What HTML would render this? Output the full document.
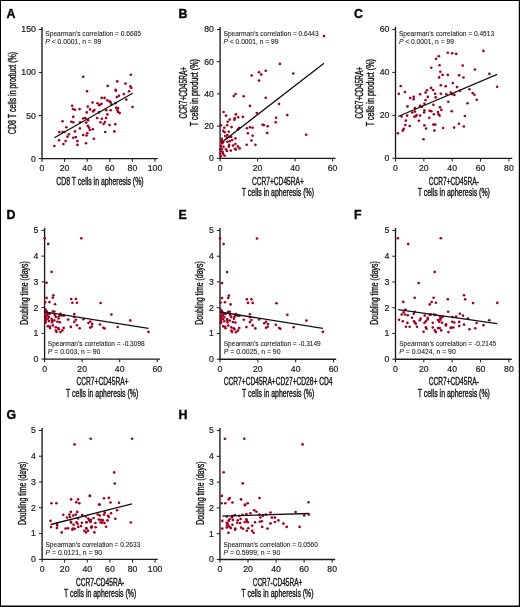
<!DOCTYPE html><html><head><meta charset="utf-8"><style>html,body{margin:0;padding:0;background:#fff;width:520px;height:607px;overflow:hidden}svg{display:block;will-change:transform}</style></head><body><svg width="520" height="607" viewBox="0 0 520 607" font-family="'Liberation Sans', sans-serif">
<rect x="0" y="0" width="520" height="607" fill="#fff"/>
<path d="M0 0H520V607H0Z M1 1V605.6H518.8V1Z" fill="#000" fill-rule="evenodd"/>
<g><text x="6.6" y="18.3" font-weight="bold" font-size="12.4" fill="#000" stroke="#000" stroke-width="0.35">A</text>
<path d="M42 26.95V158.65H157.7" fill="none" stroke="#1a1a1a" stroke-width="1.35"/>
<path d="M42 158.65v3.2M64.6 158.65v3.2M87.2 158.65v3.2M109.8 158.65v3.2M132.4 158.65v3.2M155 158.65v3.2M42 158.65h-3.2M42 115.62h-3.2M42 72.58h-3.2M42 29.55h-3.2" fill="none" stroke="#1a1a1a" stroke-width="1"/>
<g font-size="8.7" fill="#1a1a1a" stroke="#1a1a1a" stroke-width="0.2"><text x="42" y="171.05" text-anchor="middle">0</text><text x="64.6" y="171.05" text-anchor="middle">20</text><text x="87.2" y="171.05" text-anchor="middle">40</text><text x="109.8" y="171.05" text-anchor="middle">60</text><text x="132.4" y="171.05" text-anchor="middle">80</text><text x="155" y="171.05" text-anchor="middle">100</text><text x="35.8" y="161.55" text-anchor="end">0</text><text x="35.8" y="118.52" text-anchor="end">50</text><text x="35.8" y="75.48" text-anchor="end">100</text><text x="35.8" y="32.45" text-anchor="end">150</text></g>
<g fill="#9c001e"><circle cx="83.2" cy="76.8" r="1.32"/><circle cx="87" cy="91.3" r="1.32"/><circle cx="72.2" cy="105.8" r="1.32"/><circle cx="73" cy="109" r="1.32"/><circle cx="75" cy="109.8" r="1.32"/><circle cx="79.6" cy="109.1" r="1.32"/><circle cx="87.8" cy="106.6" r="1.32"/><circle cx="90.1" cy="109.4" r="1.32"/><circle cx="92.6" cy="102.5" r="1.32"/><circle cx="97.5" cy="103.2" r="1.32"/><circle cx="100" cy="104.8" r="1.32"/><circle cx="101.7" cy="97.9" r="1.32"/><circle cx="86.8" cy="112.4" r="1.32"/><circle cx="93.1" cy="111.4" r="1.32"/><circle cx="94.4" cy="110" r="1.32"/><circle cx="98.9" cy="112.4" r="1.32"/><circle cx="73.3" cy="116.9" r="1.32"/><circle cx="62.6" cy="121.3" r="1.32"/><circle cx="71.3" cy="121.8" r="1.32"/><circle cx="73.3" cy="122.3" r="1.32"/><circle cx="80.2" cy="122.3" r="1.32"/><circle cx="83.2" cy="118.5" r="1.32"/><circle cx="85.3" cy="118" r="1.32"/><circle cx="88.2" cy="120.2" r="1.32"/><circle cx="86.2" cy="122.6" r="1.32"/><circle cx="97.2" cy="118" r="1.32"/><circle cx="100.5" cy="122.3" r="1.32"/><circle cx="66.4" cy="127.2" r="1.32"/><circle cx="79.9" cy="128.4" r="1.32"/><circle cx="87.8" cy="125.9" r="1.32"/><circle cx="89" cy="127.6" r="1.32"/><circle cx="89.8" cy="130" r="1.32"/><circle cx="92.8" cy="129.2" r="1.32"/><circle cx="59.3" cy="132" r="1.32"/><circle cx="62.6" cy="132" r="1.32"/><circle cx="64.3" cy="132" r="1.32"/><circle cx="68.9" cy="134.2" r="1.32"/><circle cx="75" cy="131.4" r="1.32"/><circle cx="67.5" cy="136.6" r="1.32"/><circle cx="73.3" cy="137.8" r="1.32"/><circle cx="75.8" cy="137.1" r="1.32"/><circle cx="83.2" cy="135" r="1.32"/><circle cx="86.5" cy="135.5" r="1.32"/><circle cx="87.3" cy="133.3" r="1.32"/><circle cx="59" cy="140.3" r="1.32"/><circle cx="65.6" cy="141.1" r="1.32"/><circle cx="77.4" cy="141.1" r="1.32"/><circle cx="93.9" cy="138.8" r="1.32"/><circle cx="54.4" cy="146" r="1.32"/><circle cx="63.4" cy="144.1" r="1.32"/><circle cx="77.4" cy="144.9" r="1.32"/><circle cx="86" cy="143.2" r="1.32"/><circle cx="130.8" cy="74.8" r="1.32"/><circle cx="117.3" cy="81.4" r="1.32"/><circle cx="125.5" cy="83.6" r="1.32"/><circle cx="107.7" cy="85.9" r="1.32"/><circle cx="130.4" cy="86.4" r="1.32"/><circle cx="131.3" cy="88" r="1.32"/><circle cx="115.6" cy="89.7" r="1.32"/><circle cx="115.9" cy="90.8" r="1.32"/><circle cx="129.1" cy="91.3" r="1.32"/><circle cx="123.8" cy="94.1" r="1.32"/><circle cx="118.9" cy="95.8" r="1.32"/><circle cx="116.9" cy="97.1" r="1.32"/><circle cx="104.6" cy="97.9" r="1.32"/><circle cx="126.3" cy="99.6" r="1.32"/><circle cx="107.4" cy="100.4" r="1.32"/><circle cx="109.5" cy="101.2" r="1.32"/><circle cx="110.7" cy="102.5" r="1.32"/><circle cx="101.6" cy="103.7" r="1.32"/><circle cx="99.1" cy="105.3" r="1.32"/><circle cx="115.3" cy="103.2" r="1.32"/><circle cx="111.5" cy="104.5" r="1.32"/><circle cx="132.6" cy="107" r="1.32"/><circle cx="116.1" cy="107.8" r="1.32"/><circle cx="118.1" cy="108.1" r="1.32"/><circle cx="117.3" cy="110.3" r="1.32"/><circle cx="118.1" cy="111.9" r="1.32"/><circle cx="119.7" cy="113.1" r="1.32"/><circle cx="110.7" cy="110.3" r="1.32"/><circle cx="106.2" cy="110.3" r="1.32"/><circle cx="107.4" cy="114.4" r="1.32"/><circle cx="101.9" cy="118.8" r="1.32"/><circle cx="106" cy="118" r="1.32"/><circle cx="104.9" cy="122.1" r="1.32"/><circle cx="103.6" cy="124" r="1.32"/><circle cx="109.5" cy="125.1" r="1.32"/><circle cx="115.3" cy="124.3" r="1.32"/><circle cx="105.2" cy="132" r="1.32"/><circle cx="114.4" cy="131.4" r="1.32"/></g>
<path d="M54.4 137.8L132.6 93.3" stroke="#111" stroke-width="1.3"/>
<g font-size="6.8" fill="#1a1a1a" stroke="#1a1a1a" stroke-width="0.08"><text x="45.3" y="36.4" textLength="95.8" lengthAdjust="spacingAndGlyphs">Spearman&#8217;s correlation = 0.6685</text><text x="45.3" y="44.2" textLength="56" lengthAdjust="spacingAndGlyphs"><tspan font-style="italic">P</tspan> &lt; 0.0001, n = 99</text></g>
<g font-size="10.0" fill="#1a1a1a" stroke="#1a1a1a" stroke-width="0.4"><text x="99.9" y="185" text-anchor="middle" textLength="87.5" lengthAdjust="spacingAndGlyphs">CD8 T cells in apheresis (%)</text><text transform="translate(16.3 93) rotate(-90)" text-anchor="middle" textLength="82.4" lengthAdjust="spacingAndGlyphs">CD8 T cells in product (%)</text></g></g>
<g><text x="178.4" y="18.3" font-weight="bold" font-size="12.4" fill="#000" stroke="#000" stroke-width="0.35">B</text>
<path d="M220.1 26.9V158.3H335.5" fill="none" stroke="#1a1a1a" stroke-width="1.35"/>
<path d="M220.1 158.3v3.2M257.6 158.3v3.2M295.1 158.3v3.2M332.6 158.3v3.2M220.1 158.3h-3.2M220.1 126.1h-3.2M220.1 93.9h-3.2M220.1 61.7h-3.2M220.1 29.5h-3.2" fill="none" stroke="#1a1a1a" stroke-width="1"/>
<g font-size="8.7" fill="#1a1a1a" stroke="#1a1a1a" stroke-width="0.2"><text x="220.1" y="170.7" text-anchor="middle">0</text><text x="257.6" y="170.7" text-anchor="middle">20</text><text x="295.1" y="170.7" text-anchor="middle">40</text><text x="332.6" y="170.7" text-anchor="middle">60</text><text x="213.9" y="161.2" text-anchor="end">0</text><text x="213.9" y="129" text-anchor="end">20</text><text x="213.9" y="96.8" text-anchor="end">40</text><text x="213.9" y="64.6" text-anchor="end">60</text><text x="213.9" y="32.4" text-anchor="end">80</text></g>
<g fill="#9c001e"><circle cx="250" cy="105.9" r="1.32"/><circle cx="223.6" cy="112" r="1.32"/><circle cx="226" cy="115.6" r="1.32"/><circle cx="235.9" cy="114.4" r="1.32"/><circle cx="238.2" cy="117.2" r="1.32"/><circle cx="242.9" cy="116.9" r="1.32"/><circle cx="256.8" cy="113" r="1.32"/><circle cx="229.7" cy="119.6" r="1.32"/><circle cx="234.7" cy="118.2" r="1.32"/><circle cx="234.4" cy="119.8" r="1.32"/><circle cx="227.7" cy="121.7" r="1.32"/><circle cx="221" cy="125.2" r="1.32"/><circle cx="227.1" cy="125.2" r="1.32"/><circle cx="231.6" cy="127.1" r="1.32"/><circle cx="224.3" cy="127.7" r="1.32"/><circle cx="239.1" cy="128" r="1.32"/><circle cx="238" cy="129.4" r="1.32"/><circle cx="246.9" cy="128.3" r="1.32"/><circle cx="250" cy="127.3" r="1.32"/><circle cx="252.6" cy="127.8" r="1.32"/><circle cx="223.2" cy="130.8" r="1.32"/><circle cx="224.6" cy="132.3" r="1.32"/><circle cx="228.8" cy="131.8" r="1.32"/><circle cx="247.9" cy="133.2" r="1.32"/><circle cx="252.6" cy="135.8" r="1.32"/><circle cx="225.3" cy="136" r="1.32"/><circle cx="227.4" cy="135.1" r="1.32"/><circle cx="229.3" cy="137" r="1.32"/><circle cx="231.2" cy="136.8" r="1.32"/><circle cx="226.9" cy="137.9" r="1.32"/><circle cx="235.4" cy="138.4" r="1.32"/><circle cx="232.1" cy="140.1" r="1.32"/><circle cx="251.4" cy="140.5" r="1.32"/><circle cx="221.8" cy="140.5" r="1.32"/><circle cx="221.3" cy="142.1" r="1.32"/><circle cx="223.2" cy="142.1" r="1.32"/><circle cx="227.4" cy="141.8" r="1.32"/><circle cx="229.7" cy="141.2" r="1.32"/><circle cx="222.2" cy="143.5" r="1.32"/><circle cx="229.1" cy="144.9" r="1.32"/><circle cx="233" cy="145.6" r="1.32"/><circle cx="235.4" cy="144" r="1.32"/><circle cx="237.9" cy="146.4" r="1.32"/><circle cx="246.7" cy="144.8" r="1.32"/><circle cx="255.4" cy="144.8" r="1.32"/><circle cx="221.1" cy="146.4" r="1.32"/><circle cx="223.6" cy="146.8" r="1.32"/><circle cx="228.8" cy="146.8" r="1.32"/><circle cx="234.9" cy="148.7" r="1.32"/><circle cx="239.6" cy="148.4" r="1.32"/><circle cx="221.8" cy="149.2" r="1.32"/><circle cx="226" cy="149.2" r="1.32"/><circle cx="230.7" cy="150.6" r="1.32"/><circle cx="226.9" cy="151" r="1.32"/><circle cx="235.9" cy="149.6" r="1.32"/><circle cx="220.8" cy="151.5" r="1.32"/><circle cx="222.7" cy="152" r="1.32"/><circle cx="220.3" cy="153.9" r="1.32"/><circle cx="224.6" cy="155.8" r="1.32"/><circle cx="220.8" cy="156.2" r="1.32"/><circle cx="221.8" cy="138.8" r="1.32"/><circle cx="220.3" cy="149.2" r="1.32"/><circle cx="223.2" cy="153.9" r="1.32"/><circle cx="262.6" cy="124.7" r="1.32"/><circle cx="324" cy="36.1" r="1.32"/><circle cx="279.9" cy="63.9" r="1.32"/><circle cx="259" cy="72.2" r="1.32"/><circle cx="261.2" cy="74.6" r="1.32"/><circle cx="265.7" cy="70.8" r="1.32"/><circle cx="293.3" cy="73.5" r="1.32"/><circle cx="259" cy="80.6" r="1.32"/><circle cx="265.7" cy="97.8" r="1.32"/><circle cx="279" cy="104" r="1.32"/><circle cx="287.3" cy="115.1" r="1.32"/><circle cx="276.1" cy="117.8" r="1.32"/><circle cx="275.7" cy="122.2" r="1.32"/><circle cx="263.9" cy="125.1" r="1.32"/><circle cx="267.7" cy="126.2" r="1.32"/><circle cx="267.2" cy="132.9" r="1.32"/><circle cx="306.2" cy="134.7" r="1.32"/><circle cx="251.6" cy="75.5" r="1.32"/><circle cx="235.6" cy="94" r="1.32"/><circle cx="233.7" cy="96.1" r="1.32"/><circle cx="243.7" cy="96.2" r="1.32"/></g>
<path d="M223.2 141.2L324 63.3" stroke="#111" stroke-width="1.3"/>
<g font-size="6.8" fill="#1a1a1a" stroke="#1a1a1a" stroke-width="0.08"><text x="223.5" y="36.4" textLength="95.2" lengthAdjust="spacingAndGlyphs">Spearman&#8217;s correlation = 0.6443</text><text x="223.5" y="44.2" textLength="55" lengthAdjust="spacingAndGlyphs"><tspan font-style="italic">P</tspan> &lt; 0.0001, n = 99</text></g>
<g font-size="10.0" fill="#1a1a1a" stroke="#1a1a1a" stroke-width="0.4"><text x="277.9" y="184.6" text-anchor="middle" textLength="52.0" lengthAdjust="spacingAndGlyphs">CCR7+CD45RA+</text><text x="277.9" y="195.7" text-anchor="middle" textLength="72.3" lengthAdjust="spacingAndGlyphs">T cells in apheresis (%)</text><text transform="translate(186.7 92.7) rotate(-90)" text-anchor="middle" textLength="51.8" lengthAdjust="spacingAndGlyphs">CCR7+CD45RA+</text><text transform="translate(197.6 92.65) rotate(-90)" text-anchor="middle" textLength="67.3" lengthAdjust="spacingAndGlyphs">T cells in product (%)</text></g></g>
<g><text x="354" y="18.4" font-weight="bold" font-size="12.4" fill="#000" stroke="#000" stroke-width="0.35">C</text>
<path d="M395.5 26.82V158.3H512.3" fill="none" stroke="#1a1a1a" stroke-width="1.35"/>
<path d="M395.5 158.3v3.2M423.85 158.3v3.2M452.2 158.3v3.2M480.55 158.3v3.2M508.9 158.3v3.2M395.5 158.3h-3.2M395.5 115.34h-3.2M395.5 72.38h-3.2M395.5 29.42h-3.2" fill="none" stroke="#1a1a1a" stroke-width="1"/>
<g font-size="8.7" fill="#1a1a1a" stroke="#1a1a1a" stroke-width="0.2"><text x="395.5" y="170.7" text-anchor="middle">0</text><text x="423.85" y="170.7" text-anchor="middle">20</text><text x="452.2" y="170.7" text-anchor="middle">40</text><text x="480.55" y="170.7" text-anchor="middle">60</text><text x="508.9" y="170.7" text-anchor="middle">80</text><text x="389.3" y="161.2" text-anchor="end">0</text><text x="389.3" y="118.24" text-anchor="end">20</text><text x="389.3" y="75.28" text-anchor="end">40</text><text x="389.3" y="32.32" text-anchor="end">60</text></g>
<g fill="#9c001e"><circle cx="447.8" cy="52.8" r="1.32"/><circle cx="438.8" cy="56.2" r="1.32"/><circle cx="436" cy="58.8" r="1.32"/><circle cx="431.3" cy="67.8" r="1.32"/><circle cx="439.6" cy="65.2" r="1.32"/><circle cx="440.3" cy="71.8" r="1.32"/><circle cx="442.6" cy="74.9" r="1.32"/><circle cx="439.1" cy="77.4" r="1.32"/><circle cx="447.8" cy="74.9" r="1.32"/><circle cx="400.7" cy="86" r="1.32"/><circle cx="398.8" cy="93.8" r="1.32"/><circle cx="404.9" cy="92.1" r="1.32"/><circle cx="440.8" cy="85.3" r="1.32"/><circle cx="445.7" cy="86.2" r="1.32"/><circle cx="431" cy="87.9" r="1.32"/><circle cx="433.1" cy="90" r="1.32"/><circle cx="427" cy="90.3" r="1.32"/><circle cx="425.6" cy="92.6" r="1.32"/><circle cx="435.1" cy="93.8" r="1.32"/><circle cx="440.8" cy="93.8" r="1.32"/><circle cx="446.4" cy="94.3" r="1.32"/><circle cx="420.1" cy="94.3" r="1.32"/><circle cx="427.9" cy="96.9" r="1.32"/><circle cx="435.7" cy="97.4" r="1.32"/><circle cx="413.7" cy="96.9" r="1.32"/><circle cx="410.2" cy="98.1" r="1.32"/><circle cx="413.7" cy="99.2" r="1.32"/><circle cx="425.6" cy="100" r="1.32"/><circle cx="448.3" cy="101.7" r="1.32"/><circle cx="424.4" cy="103.8" r="1.32"/><circle cx="433.4" cy="104.7" r="1.32"/><circle cx="407.5" cy="106.4" r="1.32"/><circle cx="420.1" cy="105.9" r="1.32"/><circle cx="421.8" cy="106.8" r="1.32"/><circle cx="414.9" cy="108.1" r="1.32"/><circle cx="424.4" cy="110.4" r="1.32"/><circle cx="429.6" cy="110.7" r="1.32"/><circle cx="431.3" cy="111.3" r="1.32"/><circle cx="437.9" cy="112.1" r="1.32"/><circle cx="440" cy="107.3" r="1.32"/><circle cx="441.4" cy="109.9" r="1.32"/><circle cx="412.3" cy="112.5" r="1.32"/><circle cx="414.9" cy="111.6" r="1.32"/><circle cx="424.1" cy="112.5" r="1.32"/><circle cx="433.9" cy="114.2" r="1.32"/><circle cx="438.6" cy="114.2" r="1.32"/><circle cx="439.6" cy="115.6" r="1.32"/><circle cx="401.6" cy="116.5" r="1.32"/><circle cx="407.1" cy="115.6" r="1.32"/><circle cx="414.4" cy="116.8" r="1.32"/><circle cx="416.6" cy="115.1" r="1.32"/><circle cx="420.1" cy="115.6" r="1.32"/><circle cx="415.8" cy="116.3" r="1.32"/><circle cx="429.3" cy="117.7" r="1.32"/><circle cx="405.9" cy="120.6" r="1.32"/><circle cx="418.9" cy="120.8" r="1.32"/><circle cx="405.4" cy="125.1" r="1.32"/><circle cx="409.7" cy="126" r="1.32"/><circle cx="424.4" cy="125.4" r="1.32"/><circle cx="433.4" cy="124.6" r="1.32"/><circle cx="435.3" cy="124.6" r="1.32"/><circle cx="403.7" cy="128.9" r="1.32"/><circle cx="402.8" cy="130.6" r="1.32"/><circle cx="426.1" cy="128.6" r="1.32"/><circle cx="443.1" cy="128" r="1.32"/><circle cx="434.4" cy="130.6" r="1.32"/><circle cx="397.9" cy="133.2" r="1.32"/><circle cx="423.5" cy="139.3" r="1.32"/><circle cx="483.4" cy="50.9" r="1.32"/><circle cx="452.2" cy="53.2" r="1.32"/><circle cx="456.2" cy="53.9" r="1.32"/><circle cx="462.7" cy="65.5" r="1.32"/><circle cx="474.9" cy="69.5" r="1.32"/><circle cx="459.1" cy="75.3" r="1.32"/><circle cx="463.5" cy="77.5" r="1.32"/><circle cx="489.4" cy="73.9" r="1.32"/><circle cx="452.8" cy="83.1" r="1.32"/><circle cx="457" cy="87.1" r="1.32"/><circle cx="497.1" cy="86.7" r="1.32"/><circle cx="469.4" cy="89.2" r="1.32"/><circle cx="460" cy="90.7" r="1.32"/><circle cx="450.8" cy="92.5" r="1.32"/><circle cx="452.2" cy="94.3" r="1.32"/><circle cx="454.4" cy="94.9" r="1.32"/><circle cx="472.7" cy="93.1" r="1.32"/><circle cx="474.5" cy="94.7" r="1.32"/><circle cx="476.7" cy="99.8" r="1.32"/><circle cx="467.6" cy="103.2" r="1.32"/><circle cx="451.7" cy="111.2" r="1.32"/><circle cx="464.9" cy="116" r="1.32"/><circle cx="458.9" cy="123.7" r="1.32"/><circle cx="454.1" cy="127.6" r="1.32"/><circle cx="463.8" cy="126.5" r="1.32"/></g>
<path d="M398.1 116.5L497.1 74.4" stroke="#111" stroke-width="1.3"/>
<g font-size="6.8" fill="#1a1a1a" stroke="#1a1a1a" stroke-width="0.08"><text x="398.9" y="36.4" textLength="95.2" lengthAdjust="spacingAndGlyphs">Spearman&#8217;s correlation = 0.4513</text><text x="398.9" y="44.2" textLength="55" lengthAdjust="spacingAndGlyphs"><tspan font-style="italic">P</tspan> &lt; 0.0001, n = 99</text></g>
<g font-size="10.0" fill="#1a1a1a" stroke="#1a1a1a" stroke-width="0.4"><text x="453.8" y="184.6" text-anchor="middle" textLength="50.0" lengthAdjust="spacingAndGlyphs">CCR7+CD45RA-</text><text x="453.8" y="195.7" text-anchor="middle" textLength="72.3" lengthAdjust="spacingAndGlyphs">T cells in apheresis (%)</text><text transform="translate(362.7 92.7) rotate(-90)" text-anchor="middle" textLength="51.8" lengthAdjust="spacingAndGlyphs">CCR7+CD45RA+</text><text transform="translate(373.6 92.65) rotate(-90)" text-anchor="middle" textLength="67.3" lengthAdjust="spacingAndGlyphs">T cells in product (%)</text></g></g>
<g><text x="6.5" y="218.7" font-weight="bold" font-size="12.4" fill="#000" stroke="#000" stroke-width="0.35">D</text>
<path d="M44.6 227.8V359.1H160" fill="none" stroke="#1a1a1a" stroke-width="1.35"/>
<path d="M44.6 359.1v3.2M82.14 359.1v3.2M119.68 359.1v3.2M157.22 359.1v3.2M44.6 359.1h-3.2M44.6 333.36h-3.2M44.6 307.62h-3.2M44.6 281.88h-3.2M44.6 256.14h-3.2M44.6 230.4h-3.2" fill="none" stroke="#1a1a1a" stroke-width="1"/>
<g font-size="8.7" fill="#1a1a1a" stroke="#1a1a1a" stroke-width="0.2"><text x="44.6" y="371.5" text-anchor="middle">0</text><text x="82.14" y="371.5" text-anchor="middle">20</text><text x="119.68" y="371.5" text-anchor="middle">40</text><text x="157.22" y="371.5" text-anchor="middle">60</text><text x="38.4" y="362" text-anchor="end">0</text><text x="38.4" y="336.26" text-anchor="end">1</text><text x="38.4" y="310.52" text-anchor="end">2</text><text x="38.4" y="284.78" text-anchor="end">3</text><text x="38.4" y="259.04" text-anchor="end">4</text><text x="38.4" y="233.3" text-anchor="end">5</text></g>
<g fill="#9c001e"><circle cx="53.4" cy="295.4" r="1.32"/><circle cx="52.8" cy="297.7" r="1.32"/><circle cx="46.6" cy="297.9" r="1.32"/><circle cx="45.2" cy="302.3" r="1.32"/><circle cx="49.5" cy="302.1" r="1.32"/><circle cx="55.1" cy="304.2" r="1.32"/><circle cx="71.2" cy="299" r="1.32"/><circle cx="75.8" cy="299" r="1.32"/><circle cx="72.4" cy="302.7" r="1.32"/><circle cx="77" cy="302.7" r="1.32"/><circle cx="45.5" cy="309.6" r="1.32"/><circle cx="52.8" cy="311.5" r="1.32"/><circle cx="54.3" cy="311.5" r="1.32"/><circle cx="46.2" cy="312.7" r="1.32"/><circle cx="48.2" cy="313.5" r="1.32"/><circle cx="50.1" cy="313.8" r="1.32"/><circle cx="60.5" cy="313.8" r="1.32"/><circle cx="74.3" cy="314.1" r="1.32"/><circle cx="45.5" cy="315.4" r="1.32"/><circle cx="47.4" cy="315.4" r="1.32"/><circle cx="54.7" cy="315" r="1.32"/><circle cx="60.1" cy="315" r="1.32"/><circle cx="63.9" cy="315.6" r="1.32"/><circle cx="62" cy="315.4" r="1.32"/><circle cx="45.8" cy="317.3" r="1.32"/><circle cx="48.9" cy="316.9" r="1.32"/><circle cx="55.8" cy="316.9" r="1.32"/><circle cx="58.9" cy="316.5" r="1.32"/><circle cx="74.3" cy="316.9" r="1.32"/><circle cx="45.5" cy="319.2" r="1.32"/><circle cx="47.8" cy="318.8" r="1.32"/><circle cx="51.6" cy="318.8" r="1.32"/><circle cx="58.5" cy="318.5" r="1.32"/><circle cx="68.2" cy="319.6" r="1.32"/><circle cx="75.8" cy="319.8" r="1.32"/><circle cx="45.8" cy="321.2" r="1.32"/><circle cx="48.9" cy="321" r="1.32"/><circle cx="52" cy="320.4" r="1.32"/><circle cx="54.3" cy="320.4" r="1.32"/><circle cx="45.5" cy="322.7" r="1.32"/><circle cx="52" cy="322.3" r="1.32"/><circle cx="57.4" cy="321.8" r="1.32"/><circle cx="59.8" cy="322.3" r="1.32"/><circle cx="74.3" cy="321.9" r="1.32"/><circle cx="52.8" cy="325.4" r="1.32"/><circle cx="47.8" cy="326.2" r="1.32"/><circle cx="49.7" cy="326.5" r="1.32"/><circle cx="50.1" cy="328.1" r="1.32"/><circle cx="55.8" cy="327.2" r="1.32"/><circle cx="58.2" cy="328.1" r="1.32"/><circle cx="58.9" cy="329.2" r="1.32"/><circle cx="63.7" cy="327.9" r="1.32"/><circle cx="70.8" cy="326.9" r="1.32"/><circle cx="77" cy="325.2" r="1.32"/><circle cx="79.7" cy="328.2" r="1.32"/><circle cx="55.8" cy="330.5" r="1.32"/><circle cx="56.6" cy="331.9" r="1.32"/><circle cx="60.5" cy="332.1" r="1.32"/><circle cx="62.4" cy="330.4" r="1.32"/><circle cx="46.6" cy="311.2" r="1.32"/><circle cx="44.7" cy="238.3" r="1.32"/><circle cx="81.3" cy="238.3" r="1.32"/><circle cx="48.2" cy="243.9" r="1.32"/><circle cx="51.6" cy="271.9" r="1.32"/><circle cx="46.6" cy="282.8" r="1.32"/><circle cx="100.6" cy="303" r="1.32"/><circle cx="111.4" cy="314.5" r="1.32"/><circle cx="83.4" cy="319.3" r="1.32"/><circle cx="90.3" cy="321.5" r="1.32"/><circle cx="88.5" cy="323" r="1.32"/><circle cx="92.2" cy="323.9" r="1.32"/><circle cx="100" cy="324.5" r="1.32"/><circle cx="130.3" cy="320.4" r="1.32"/><circle cx="90.3" cy="327.6" r="1.32"/><circle cx="91.8" cy="326.5" r="1.32"/><circle cx="103.4" cy="327.8" r="1.32"/><circle cx="104.5" cy="328.5" r="1.32"/><circle cx="117.7" cy="327" r="1.32"/><circle cx="148.5" cy="331.9" r="1.32"/></g>
<path d="M44.6 311.8L148.5 328.4" stroke="#111" stroke-width="1.3"/>
<g font-size="6.8" fill="#1a1a1a" stroke="#1a1a1a" stroke-width="0.08"><text x="47.8" y="346.3" textLength="96.9" lengthAdjust="spacingAndGlyphs">Spearman&#8217;s correlation = -0.3098</text><text x="47.8" y="354.4" textLength="52.5" lengthAdjust="spacingAndGlyphs"><tspan font-style="italic">P</tspan> = 0.003, n = 90</text></g>
<g font-size="10.0" fill="#1a1a1a" stroke="#1a1a1a" stroke-width="0.4"><text x="102.5" y="385.4" text-anchor="middle" textLength="52.1" lengthAdjust="spacingAndGlyphs">CCR7+CD45RA+</text><text x="102.2" y="396.7" text-anchor="middle" textLength="72.3" lengthAdjust="spacingAndGlyphs">T cells in apheresis (%)</text><text transform="translate(28 293) rotate(-90)" text-anchor="middle" textLength="63.4" lengthAdjust="spacingAndGlyphs">Doubling time (days)</text></g></g>
<g><text x="178.5" y="218.7" font-weight="bold" font-size="12.4" fill="#000" stroke="#000" stroke-width="0.35">E</text>
<path d="M220 227.9V359.2H336.2" fill="none" stroke="#1a1a1a" stroke-width="1.35"/>
<path d="M220 359.2v3.2M257.84 359.2v3.2M295.68 359.2v3.2M333.52 359.2v3.2M220 359.2h-3.2M220 333.46h-3.2M220 307.72h-3.2M220 281.98h-3.2M220 256.24h-3.2M220 230.5h-3.2" fill="none" stroke="#1a1a1a" stroke-width="1"/>
<g font-size="8.7" fill="#1a1a1a" stroke="#1a1a1a" stroke-width="0.2"><text x="220" y="371.6" text-anchor="middle">0</text><text x="257.84" y="371.6" text-anchor="middle">20</text><text x="295.68" y="371.6" text-anchor="middle">40</text><text x="333.52" y="371.6" text-anchor="middle">60</text><text x="213.8" y="362.1" text-anchor="end">0</text><text x="213.8" y="336.36" text-anchor="end">1</text><text x="213.8" y="310.62" text-anchor="end">2</text><text x="213.8" y="284.88" text-anchor="end">3</text><text x="213.8" y="259.14" text-anchor="end">4</text><text x="213.8" y="233.4" text-anchor="end">5</text></g>
<g fill="#9c001e"><circle cx="228.87" cy="295.6" r="1.32"/><circle cx="228.27" cy="297.9" r="1.32"/><circle cx="222.02" cy="298.1" r="1.32"/><circle cx="220.6" cy="302.5" r="1.32"/><circle cx="224.94" cy="302.3" r="1.32"/><circle cx="230.58" cy="304.4" r="1.32"/><circle cx="246.81" cy="299.2" r="1.32"/><circle cx="251.45" cy="299.2" r="1.32"/><circle cx="248.02" cy="302.9" r="1.32"/><circle cx="252.66" cy="302.9" r="1.32"/><circle cx="220.91" cy="309.8" r="1.32"/><circle cx="228.27" cy="311.7" r="1.32"/><circle cx="229.78" cy="311.7" r="1.32"/><circle cx="221.61" cy="312.9" r="1.32"/><circle cx="223.63" cy="313.7" r="1.32"/><circle cx="225.54" cy="314" r="1.32"/><circle cx="236.03" cy="314" r="1.32"/><circle cx="249.94" cy="314.3" r="1.32"/><circle cx="220.91" cy="315.6" r="1.32"/><circle cx="222.82" cy="315.6" r="1.32"/><circle cx="230.18" cy="315.2" r="1.32"/><circle cx="235.62" cy="315.2" r="1.32"/><circle cx="239.45" cy="315.8" r="1.32"/><circle cx="237.54" cy="315.6" r="1.32"/><circle cx="221.21" cy="317.5" r="1.32"/><circle cx="224.33" cy="317.1" r="1.32"/><circle cx="231.29" cy="317.1" r="1.32"/><circle cx="234.41" cy="316.7" r="1.32"/><circle cx="249.94" cy="317.1" r="1.32"/><circle cx="220.91" cy="319.4" r="1.32"/><circle cx="223.23" cy="319" r="1.32"/><circle cx="227.06" cy="319" r="1.32"/><circle cx="234.01" cy="318.7" r="1.32"/><circle cx="243.79" cy="319.8" r="1.32"/><circle cx="251.45" cy="320" r="1.32"/><circle cx="221.21" cy="321.4" r="1.32"/><circle cx="224.33" cy="321.2" r="1.32"/><circle cx="227.46" cy="320.6" r="1.32"/><circle cx="229.78" cy="320.6" r="1.32"/><circle cx="220.91" cy="322.9" r="1.32"/><circle cx="227.46" cy="322.5" r="1.32"/><circle cx="232.9" cy="322" r="1.32"/><circle cx="235.32" cy="322.5" r="1.32"/><circle cx="249.94" cy="322.1" r="1.32"/><circle cx="228.27" cy="325.6" r="1.32"/><circle cx="223.23" cy="326.4" r="1.32"/><circle cx="225.14" cy="326.7" r="1.32"/><circle cx="225.54" cy="328.3" r="1.32"/><circle cx="231.29" cy="327.4" r="1.32"/><circle cx="233.71" cy="328.3" r="1.32"/><circle cx="234.41" cy="329.4" r="1.32"/><circle cx="239.25" cy="328.1" r="1.32"/><circle cx="246.41" cy="327.1" r="1.32"/><circle cx="252.66" cy="325.4" r="1.32"/><circle cx="255.38" cy="328.4" r="1.32"/><circle cx="231.29" cy="330.7" r="1.32"/><circle cx="232.1" cy="332.1" r="1.32"/><circle cx="236.03" cy="332.3" r="1.32"/><circle cx="237.94" cy="330.6" r="1.32"/><circle cx="222.02" cy="311.4" r="1.32"/><circle cx="220.1" cy="238.5" r="1.32"/><circle cx="256.99" cy="238.5" r="1.32"/><circle cx="223.63" cy="244.1" r="1.32"/><circle cx="227.06" cy="272.1" r="1.32"/><circle cx="222.02" cy="283" r="1.32"/><circle cx="276.45" cy="303.2" r="1.32"/><circle cx="287.33" cy="314.7" r="1.32"/><circle cx="259.11" cy="319.5" r="1.32"/><circle cx="266.07" cy="321.7" r="1.32"/><circle cx="264.25" cy="323.2" r="1.32"/><circle cx="267.98" cy="324.1" r="1.32"/><circle cx="275.84" cy="324.7" r="1.32"/><circle cx="306.38" cy="320.6" r="1.32"/><circle cx="266.07" cy="327.8" r="1.32"/><circle cx="267.58" cy="326.7" r="1.32"/><circle cx="279.27" cy="328" r="1.32"/><circle cx="280.38" cy="328.7" r="1.32"/><circle cx="293.68" cy="327.2" r="1.32"/><circle cx="322.9" cy="331.9" r="1.32"/></g>
<path d="M220 312L322.9 328.4" stroke="#111" stroke-width="1.3"/>
<g font-size="6.8" fill="#1a1a1a" stroke="#1a1a1a" stroke-width="0.08"><text x="223.75" y="346.3" textLength="97" lengthAdjust="spacingAndGlyphs">Spearman&#8217;s correlation = -0.3149</text><text x="223.75" y="354.4" textLength="56.75" lengthAdjust="spacingAndGlyphs"><tspan font-style="italic">P</tspan> = 0.0025, n = 90</text></g>
<g font-size="10.0" fill="#1a1a1a" stroke="#1a1a1a" stroke-width="0.4"><text x="278.1" y="385.4" text-anchor="middle" textLength="108.7" lengthAdjust="spacingAndGlyphs">CCR7+CD45RA+CD27+CD28+ CD4</text><text x="278.1" y="396.7" text-anchor="middle" textLength="72.3" lengthAdjust="spacingAndGlyphs">T cells in apheresis (%)</text><text transform="translate(203 293) rotate(-90)" text-anchor="middle" textLength="63.4" lengthAdjust="spacingAndGlyphs">Doubling time (days)</text></g></g>
<g><text x="354" y="218.7" font-weight="bold" font-size="12.4" fill="#000" stroke="#000" stroke-width="0.35">F</text>
<path d="M395.5 227.9V359.2H511.8" fill="none" stroke="#1a1a1a" stroke-width="1.35"/>
<path d="M395.5 359.2v3.2M423.85 359.2v3.2M452.2 359.2v3.2M480.55 359.2v3.2M508.9 359.2v3.2M395.5 359.2h-3.2M395.5 333.46h-3.2M395.5 307.72h-3.2M395.5 281.98h-3.2M395.5 256.24h-3.2M395.5 230.5h-3.2" fill="none" stroke="#1a1a1a" stroke-width="1"/>
<g font-size="8.7" fill="#1a1a1a" stroke="#1a1a1a" stroke-width="0.2"><text x="395.5" y="371.6" text-anchor="middle">0</text><text x="423.85" y="371.6" text-anchor="middle">20</text><text x="452.2" y="371.6" text-anchor="middle">40</text><text x="480.55" y="371.6" text-anchor="middle">60</text><text x="508.9" y="371.6" text-anchor="middle">80</text><text x="389.3" y="362.1" text-anchor="end">0</text><text x="389.3" y="336.36" text-anchor="end">1</text><text x="389.3" y="310.62" text-anchor="end">2</text><text x="389.3" y="284.88" text-anchor="end">3</text><text x="389.3" y="259.14" text-anchor="end">4</text><text x="389.3" y="233.4" text-anchor="end">5</text></g>
<g fill="#9c001e"><circle cx="397.9" cy="238.3" r="1.32"/><circle cx="440.8" cy="238.3" r="1.32"/><circle cx="408.2" cy="244.1" r="1.32"/><circle cx="434.7" cy="271.9" r="1.32"/><circle cx="418.7" cy="283" r="1.32"/><circle cx="414.7" cy="297.8" r="1.32"/><circle cx="433.6" cy="297.7" r="1.32"/><circle cx="447.8" cy="299.2" r="1.32"/><circle cx="403.2" cy="301.9" r="1.32"/><circle cx="431.7" cy="302.1" r="1.32"/><circle cx="429.7" cy="304.4" r="1.32"/><circle cx="435.9" cy="302.7" r="1.32"/><circle cx="405.5" cy="309.6" r="1.32"/><circle cx="403.6" cy="312.2" r="1.32"/><circle cx="414.7" cy="311.7" r="1.32"/><circle cx="413.8" cy="313.7" r="1.32"/><circle cx="448.2" cy="311.7" r="1.32"/><circle cx="401.7" cy="314.5" r="1.32"/><circle cx="405.1" cy="314.5" r="1.32"/><circle cx="407.8" cy="315.2" r="1.32"/><circle cx="424.7" cy="315.6" r="1.32"/><circle cx="429.7" cy="314.8" r="1.32"/><circle cx="431.1" cy="314.5" r="1.32"/><circle cx="434.3" cy="314.6" r="1.32"/><circle cx="435.5" cy="315" r="1.32"/><circle cx="440.1" cy="316.5" r="1.32"/><circle cx="442.6" cy="317.1" r="1.32"/><circle cx="452.4" cy="317.1" r="1.32"/><circle cx="412" cy="317.7" r="1.32"/><circle cx="427.8" cy="317.7" r="1.32"/><circle cx="420.7" cy="318.6" r="1.32"/><circle cx="440.5" cy="318.3" r="1.32"/><circle cx="399" cy="319.8" r="1.32"/><circle cx="419.8" cy="320.2" r="1.32"/><circle cx="427.6" cy="319.4" r="1.32"/><circle cx="438" cy="320" r="1.32"/><circle cx="440.3" cy="319.8" r="1.32"/><circle cx="402.8" cy="321.2" r="1.32"/><circle cx="414" cy="321.2" r="1.32"/><circle cx="425.9" cy="321.2" r="1.32"/><circle cx="439.2" cy="321.7" r="1.32"/><circle cx="452.2" cy="321.7" r="1.32"/><circle cx="414.9" cy="322.7" r="1.32"/><circle cx="424.4" cy="322.7" r="1.32"/><circle cx="407.4" cy="322.9" r="1.32"/><circle cx="432.8" cy="322.7" r="1.32"/><circle cx="442" cy="322.7" r="1.32"/><circle cx="415.8" cy="323.7" r="1.32"/><circle cx="446.1" cy="324.3" r="1.32"/><circle cx="445.8" cy="325.5" r="1.32"/><circle cx="405.9" cy="326.7" r="1.32"/><circle cx="409.7" cy="326.7" r="1.32"/><circle cx="417" cy="326.7" r="1.32"/><circle cx="425.9" cy="327.2" r="1.32"/><circle cx="432.8" cy="327.5" r="1.32"/><circle cx="438" cy="328.1" r="1.32"/><circle cx="439.7" cy="328.1" r="1.32"/><circle cx="451.3" cy="327.5" r="1.32"/><circle cx="426.5" cy="328.7" r="1.32"/><circle cx="434.8" cy="330.4" r="1.32"/><circle cx="441.2" cy="330.4" r="1.32"/><circle cx="423.6" cy="331.8" r="1.32"/><circle cx="435.9" cy="332.1" r="1.32"/><circle cx="448.4" cy="332.1" r="1.32"/><circle cx="464" cy="295.3" r="1.32"/><circle cx="465.2" cy="299.3" r="1.32"/><circle cx="473" cy="303.1" r="1.32"/><circle cx="497.3" cy="302.9" r="1.32"/><circle cx="459.8" cy="313.8" r="1.32"/><circle cx="463" cy="315.6" r="1.32"/><circle cx="456.2" cy="316.5" r="1.32"/><circle cx="468" cy="318.5" r="1.32"/><circle cx="489.3" cy="320.3" r="1.32"/><circle cx="454.3" cy="322.5" r="1.32"/><circle cx="459.2" cy="321.9" r="1.32"/><circle cx="476.6" cy="323" r="1.32"/><circle cx="464" cy="324.6" r="1.32"/><circle cx="483.4" cy="325.2" r="1.32"/><circle cx="459.2" cy="326.1" r="1.32"/><circle cx="450.7" cy="327.9" r="1.32"/><circle cx="453.4" cy="327.5" r="1.32"/><circle cx="469.4" cy="329.3" r="1.32"/><circle cx="475.2" cy="328.3" r="1.32"/></g>
<path d="M398.2 309.7L497.3 323.7" stroke="#111" stroke-width="1.3"/>
<g font-size="6.8" fill="#1a1a1a" stroke="#1a1a1a" stroke-width="0.08"><text x="399.25" y="346.3" textLength="97" lengthAdjust="spacingAndGlyphs">Spearman&#8217;s correlation = -0.2145</text><text x="399.25" y="354.4" textLength="56.5" lengthAdjust="spacingAndGlyphs"><tspan font-style="italic">P</tspan> = 0.0424, n = 90</text></g>
<g font-size="10.0" fill="#1a1a1a" stroke="#1a1a1a" stroke-width="0.4"><text x="453.8" y="385.4" text-anchor="middle" textLength="50.0" lengthAdjust="spacingAndGlyphs">CCR7+CD45RA-</text><text x="453.8" y="396.7" text-anchor="middle" textLength="72.3" lengthAdjust="spacingAndGlyphs">T cells in apheresis (%)</text><text transform="translate(378 293) rotate(-90)" text-anchor="middle" textLength="63.4" lengthAdjust="spacingAndGlyphs">Doubling time (days)</text></g></g>
<g><text x="6.5" y="418.9" font-weight="bold" font-size="12.4" fill="#000" stroke="#000" stroke-width="0.35">G</text>
<path d="M42.1 427.85V559.35H157.7" fill="none" stroke="#1a1a1a" stroke-width="1.35"/>
<path d="M42.1 559.35v3.2M64.7 559.35v3.2M87.3 559.35v3.2M109.9 559.35v3.2M132.5 559.35v3.2M155.1 559.35v3.2M42.1 559.35h-3.2M42.1 533.57h-3.2M42.1 507.79h-3.2M42.1 482.01h-3.2M42.1 456.23h-3.2M42.1 430.45h-3.2" fill="none" stroke="#1a1a1a" stroke-width="1"/>
<g font-size="8.7" fill="#1a1a1a" stroke="#1a1a1a" stroke-width="0.2"><text x="42.1" y="571.75" text-anchor="middle">0</text><text x="64.7" y="571.75" text-anchor="middle">20</text><text x="87.3" y="571.75" text-anchor="middle">40</text><text x="109.9" y="571.75" text-anchor="middle">60</text><text x="132.5" y="571.75" text-anchor="middle">80</text><text x="155.1" y="571.75" text-anchor="middle">100</text><text x="35.9" y="562.25" text-anchor="end">0</text><text x="35.9" y="536.47" text-anchor="end">1</text><text x="35.9" y="510.69" text-anchor="end">2</text><text x="35.9" y="484.91" text-anchor="end">3</text><text x="35.9" y="459.13" text-anchor="end">4</text><text x="35.9" y="433.35" text-anchor="end">5</text></g>
<g fill="#9c001e"><circle cx="132.1" cy="438.7" r="1.32"/><circle cx="114.2" cy="472.4" r="1.32"/><circle cx="90.7" cy="438.8" r="1.32"/><circle cx="74.6" cy="444.4" r="1.32"/><circle cx="89.8" cy="495.9" r="1.32"/><circle cx="51.4" cy="503.2" r="1.32"/><circle cx="56.4" cy="503.3" r="1.32"/><circle cx="71.1" cy="499.4" r="1.32"/><circle cx="78" cy="499.4" r="1.32"/><circle cx="76.3" cy="502.3" r="1.32"/><circle cx="79.3" cy="503.2" r="1.32"/><circle cx="99.1" cy="504.5" r="1.32"/><circle cx="70.8" cy="511.9" r="1.32"/><circle cx="77.3" cy="511.9" r="1.32"/><circle cx="63.3" cy="514.8" r="1.32"/><circle cx="69.4" cy="514.6" r="1.32"/><circle cx="73.3" cy="515.6" r="1.32"/><circle cx="75.7" cy="514.6" r="1.32"/><circle cx="82.2" cy="515.1" r="1.32"/><circle cx="67" cy="517.5" r="1.32"/><circle cx="69.9" cy="517" r="1.32"/><circle cx="78.1" cy="518.5" r="1.32"/><circle cx="85.8" cy="516.5" r="1.32"/><circle cx="88.2" cy="518.5" r="1.32"/><circle cx="50.5" cy="520.9" r="1.32"/><circle cx="70.8" cy="521.8" r="1.32"/><circle cx="76.6" cy="522.3" r="1.32"/><circle cx="89.6" cy="520.4" r="1.32"/><circle cx="56.9" cy="523.8" r="1.32"/><circle cx="71.3" cy="522.8" r="1.32"/><circle cx="81.9" cy="522.8" r="1.32"/><circle cx="86.4" cy="522.3" r="1.32"/><circle cx="90.6" cy="521.8" r="1.32"/><circle cx="77.6" cy="523.8" r="1.32"/><circle cx="73.7" cy="524.7" r="1.32"/><circle cx="51.1" cy="527.1" r="1.32"/><circle cx="57.2" cy="525.4" r="1.32"/><circle cx="56.9" cy="528.1" r="1.32"/><circle cx="81" cy="526" r="1.32"/><circle cx="78.3" cy="526.9" r="1.32"/><circle cx="65.6" cy="528.6" r="1.32"/><circle cx="68" cy="528.3" r="1.32"/><circle cx="72.8" cy="528.6" r="1.32"/><circle cx="74.7" cy="528.8" r="1.32"/><circle cx="72.3" cy="529.8" r="1.32"/><circle cx="86.2" cy="528.1" r="1.32"/><circle cx="91.2" cy="527.1" r="1.32"/><circle cx="84.3" cy="530.8" r="1.32"/><circle cx="88" cy="530.8" r="1.32"/><circle cx="86" cy="532.4" r="1.32"/><circle cx="61.7" cy="532.4" r="1.32"/><circle cx="114.7" cy="483.5" r="1.32"/><circle cx="90" cy="495.8" r="1.32"/><circle cx="104" cy="498.2" r="1.32"/><circle cx="108.8" cy="497.9" r="1.32"/><circle cx="110.5" cy="502.5" r="1.32"/><circle cx="119" cy="502.8" r="1.32"/><circle cx="99.7" cy="504.6" r="1.32"/><circle cx="117.1" cy="510.2" r="1.32"/><circle cx="104.8" cy="512.6" r="1.32"/><circle cx="111" cy="513.2" r="1.32"/><circle cx="97.8" cy="514.5" r="1.32"/><circle cx="99.8" cy="515.6" r="1.32"/><circle cx="104" cy="514.6" r="1.32"/><circle cx="108" cy="515.8" r="1.32"/><circle cx="108.8" cy="516.9" r="1.32"/><circle cx="93.6" cy="518" r="1.32"/><circle cx="90.9" cy="519.8" r="1.32"/><circle cx="89.3" cy="520.1" r="1.32"/><circle cx="98.9" cy="519.6" r="1.32"/><circle cx="101.1" cy="519.8" r="1.32"/><circle cx="103" cy="520.4" r="1.32"/><circle cx="107.5" cy="520.4" r="1.32"/><circle cx="115.3" cy="518.7" r="1.32"/><circle cx="86.6" cy="522.3" r="1.32"/><circle cx="90.4" cy="521.7" r="1.32"/><circle cx="100.5" cy="522.3" r="1.32"/><circle cx="101.9" cy="522.8" r="1.32"/><circle cx="104.5" cy="523" r="1.32"/><circle cx="95.4" cy="523" r="1.32"/><circle cx="130.8" cy="522.5" r="1.32"/><circle cx="92" cy="526.5" r="1.32"/><circle cx="95.7" cy="527.3" r="1.32"/><circle cx="106.1" cy="526.8" r="1.32"/><circle cx="86.6" cy="528.7" r="1.32"/><circle cx="91.4" cy="527.6" r="1.32"/><circle cx="94.4" cy="532.4" r="1.32"/></g>
<path d="M50.7 524.5L132.1 503.8" stroke="#111" stroke-width="1.3"/>
<g font-size="6.8" fill="#1a1a1a" stroke="#1a1a1a" stroke-width="0.08"><text x="45.5" y="547.1" textLength="94.8" lengthAdjust="spacingAndGlyphs">Spearman&#8217;s correlation = 0.2633</text><text x="45.5" y="554.9" textLength="56.7" lengthAdjust="spacingAndGlyphs"><tspan font-style="italic">P</tspan> = 0.0121, n = 90</text></g>
<g font-size="10.0" fill="#1a1a1a" stroke="#1a1a1a" stroke-width="0.4"><text x="100.1" y="585.7" text-anchor="middle" textLength="48.4" lengthAdjust="spacingAndGlyphs">CCR7-CD45RA-</text><text x="100.1" y="596.9" text-anchor="middle" textLength="72.3" lengthAdjust="spacingAndGlyphs">T cells in apheresis (%)</text><text transform="translate(25.6 493.3) rotate(-90)" text-anchor="middle" textLength="63.4" lengthAdjust="spacingAndGlyphs">Doubling time (days)</text></g></g>
<g><text x="178.5" y="418.9" font-weight="bold" font-size="12.4" fill="#000" stroke="#000" stroke-width="0.35">H</text>
<path d="M219.95 427.95V559.45H335.2" fill="none" stroke="#1a1a1a" stroke-width="1.35"/>
<path d="M219.95 559.45v3.2M248 559.45v3.2M276.05 559.45v3.2M304.1 559.45v3.2M332.15 559.45v3.2M219.95 559.45h-3.2M219.95 533.67h-3.2M219.95 507.89h-3.2M219.95 482.11h-3.2M219.95 456.33h-3.2M219.95 430.55h-3.2" fill="none" stroke="#1a1a1a" stroke-width="1"/>
<g font-size="8.7" fill="#1a1a1a" stroke="#1a1a1a" stroke-width="0.2"><text x="219.95" y="571.85" text-anchor="middle">0</text><text x="248" y="571.85" text-anchor="middle">20</text><text x="276.05" y="571.85" text-anchor="middle">40</text><text x="304.1" y="571.85" text-anchor="middle">60</text><text x="332.15" y="571.85" text-anchor="middle">80</text><text x="213.75" y="562.35" text-anchor="end">0</text><text x="213.75" y="536.57" text-anchor="end">1</text><text x="213.75" y="510.79" text-anchor="end">2</text><text x="213.75" y="485.01" text-anchor="end">3</text><text x="213.75" y="459.23" text-anchor="end">4</text><text x="213.75" y="433.45" text-anchor="end">5</text></g>
<g fill="#9c001e"><circle cx="224.9" cy="438.8" r="1.32"/><circle cx="244.3" cy="438.8" r="1.32"/><circle cx="223.7" cy="472.2" r="1.32"/><circle cx="242.7" cy="483.4" r="1.32"/><circle cx="221.8" cy="495.9" r="1.32"/><circle cx="229.8" cy="498" r="1.32"/><circle cx="228.7" cy="499.4" r="1.32"/><circle cx="241" cy="499.4" r="1.32"/><circle cx="259.5" cy="498.1" r="1.32"/><circle cx="221.5" cy="503.2" r="1.32"/><circle cx="225.3" cy="503.2" r="1.32"/><circle cx="232.4" cy="502.5" r="1.32"/><circle cx="245.1" cy="504.5" r="1.32"/><circle cx="247.7" cy="503.2" r="1.32"/><circle cx="254.3" cy="510.2" r="1.32"/><circle cx="256.4" cy="511.8" r="1.32"/><circle cx="244.9" cy="505.2" r="1.32"/><circle cx="250.5" cy="513.2" r="1.32"/><circle cx="246.4" cy="514.1" r="1.32"/><circle cx="242.5" cy="514.8" r="1.32"/><circle cx="239.2" cy="515.8" r="1.32"/><circle cx="234.8" cy="515.1" r="1.32"/><circle cx="232.4" cy="516.1" r="1.32"/><circle cx="226.8" cy="516.5" r="1.32"/><circle cx="259.3" cy="514.6" r="1.32"/><circle cx="262.7" cy="515.4" r="1.32"/><circle cx="266.1" cy="514.6" r="1.32"/><circle cx="260.3" cy="517.5" r="1.32"/><circle cx="231.9" cy="517.5" r="1.32"/><circle cx="229.5" cy="519.2" r="1.32"/><circle cx="240.6" cy="518.9" r="1.32"/><circle cx="246.4" cy="519.4" r="1.32"/><circle cx="222.3" cy="520.9" r="1.32"/><circle cx="228.6" cy="520.9" r="1.32"/><circle cx="232.9" cy="519.9" r="1.32"/><circle cx="237.7" cy="520.2" r="1.32"/><circle cx="246.8" cy="520.9" r="1.32"/><circle cx="244.7" cy="522.1" r="1.32"/><circle cx="247.8" cy="522.3" r="1.32"/><circle cx="255" cy="522.3" r="1.32"/><circle cx="259.8" cy="521.8" r="1.32"/><circle cx="261.8" cy="521.3" r="1.32"/><circle cx="226.7" cy="522.8" r="1.32"/><circle cx="227.6" cy="523.8" r="1.32"/><circle cx="237.2" cy="522.8" r="1.32"/><circle cx="240.1" cy="523.1" r="1.32"/><circle cx="232.4" cy="524.7" r="1.32"/><circle cx="227.1" cy="525.2" r="1.32"/><circle cx="228.6" cy="525.7" r="1.32"/><circle cx="252.1" cy="525.7" r="1.32"/><circle cx="262.2" cy="526.9" r="1.32"/><circle cx="226.7" cy="527.6" r="1.32"/><circle cx="229.5" cy="527.1" r="1.32"/><circle cx="231" cy="528.1" r="1.32"/><circle cx="241.1" cy="527.6" r="1.32"/><circle cx="222.3" cy="528.6" r="1.32"/><circle cx="235.3" cy="528.6" r="1.32"/><circle cx="243" cy="528.8" r="1.32"/><circle cx="248.3" cy="528.3" r="1.32"/><circle cx="235.1" cy="529.8" r="1.32"/><circle cx="246.8" cy="530.8" r="1.32"/><circle cx="252.1" cy="530.8" r="1.32"/><circle cx="253.6" cy="532.7" r="1.32"/><circle cx="228.4" cy="532.7" r="1.32"/><circle cx="267.5" cy="528.6" r="1.32"/><circle cx="302.6" cy="444.4" r="1.32"/><circle cx="308.5" cy="502.2" r="1.32"/><circle cx="270.5" cy="512.5" r="1.32"/><circle cx="263" cy="515.6" r="1.32"/><circle cx="295.6" cy="512.1" r="1.32"/><circle cx="304.2" cy="515.4" r="1.32"/><circle cx="308.9" cy="514.6" r="1.32"/><circle cx="271.9" cy="517.6" r="1.32"/><circle cx="274.9" cy="517.6" r="1.32"/><circle cx="278.4" cy="520.4" r="1.32"/><circle cx="274.9" cy="522" r="1.32"/><circle cx="270.5" cy="523.4" r="1.32"/><circle cx="283.4" cy="523.6" r="1.32"/><circle cx="286.7" cy="526.9" r="1.32"/><circle cx="299.6" cy="526.9" r="1.32"/></g>
<path d="M222.3 516.1L308.9 513.5" stroke="#111" stroke-width="1.3"/>
<g font-size="6.8" fill="#1a1a1a" stroke="#1a1a1a" stroke-width="0.08"><text x="223.4" y="546.8" textLength="94.5" lengthAdjust="spacingAndGlyphs">Spearman&#8217;s correlation = 0.0560</text><text x="223.4" y="554.6" textLength="56.9" lengthAdjust="spacingAndGlyphs"><tspan font-style="italic">P</tspan> = 0.5999, n = 90</text></g>
<g font-size="10.0" fill="#1a1a1a" stroke="#1a1a1a" stroke-width="0.4"><text x="277.5" y="585.7" text-anchor="middle" textLength="49.7" lengthAdjust="spacingAndGlyphs">CCR7-CD45RA+</text><text x="277.5" y="596.9" text-anchor="middle" textLength="72.3" lengthAdjust="spacingAndGlyphs">T cells in apheresis (%)</text><text transform="translate(204 493.1) rotate(-90)" text-anchor="middle" textLength="63.4" lengthAdjust="spacingAndGlyphs">Doubling time (days)</text></g></g>
</svg></body></html>
